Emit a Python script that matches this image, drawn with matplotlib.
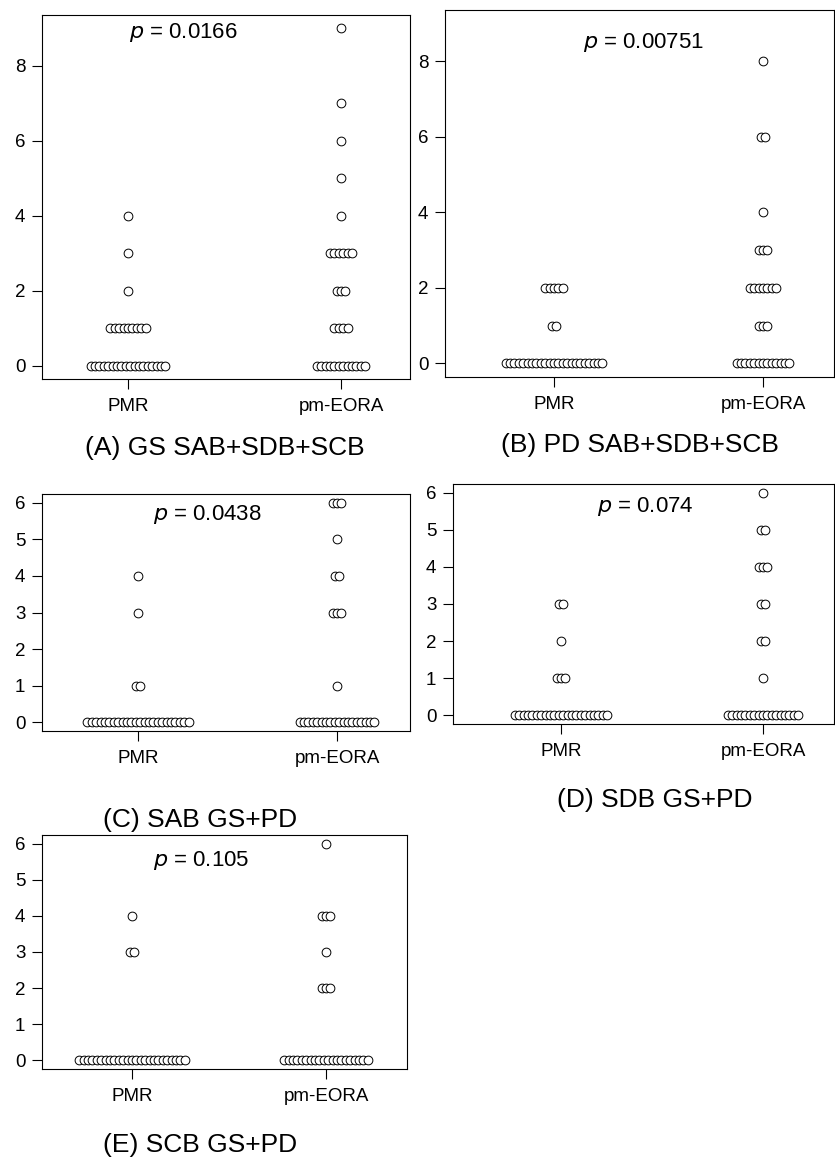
import matplotlib
matplotlib.use("Agg")
import matplotlib.pyplot as plt
import numpy as np

plt.rcParams['font.family'] = ['Liberation Sans', 'DejaVu Sans']

W, H = 835, 1162
DPI = 100

groups = ["PMR", "pm-EORA"]

# value -> count of patients (stacked dots)
A_pmr = {0: 18, 1: 9, 2: 1, 3: 1, 4: 1}
A_eora = {0: 12, 1: 4, 2: 3, 3: 6, 4: 1, 5: 1, 6: 1, 7: 1, 9: 1}
B_pmr = {0: 23, 1: 2, 2: 5}
B_eora = {0: 13, 1: 3, 2: 7, 3: 3, 4: 1, 6: 2, 8: 1}
C_pmr = {0: 24, 1: 2, 3: 1, 4: 1}
C_eora = {0: 18, 1: 1, 3: 3, 4: 2, 5: 1, 6: 3}
D_pmr = {0: 22, 1: 3, 2: 1, 3: 2}
D_eora = {0: 17, 1: 1, 2: 2, 3: 2, 4: 3, 5: 2, 6: 1}
E_pmr = {0: 25, 3: 2, 4: 1}
E_eora = {0: 20, 2: 3, 3: 1, 4: 3, 6: 1}

p_values = ["0.0166", "0.00751", "0.0438", "0.074", "0.105"]
captions = ["(A) GS SAB+SDB+SCB", "(B) PD SAB+SDB+SCB", "(C) SAB GS+PD",
            "(D) SDB GS+PD", "(E) SCB GS+PD"]
yticks_AB = [0, 2, 4, 6, 8]
yticks_CDE = [0, 1, 2, 3, 4, 5, 6]

# layout in pixels: left, right, top, bottom, col1 px, col2 px, ylim
panels = [
    dict(data=(A_pmr, A_eora), box=(42, 410, 15, 379), cols=(128, 341), ylim=(-0.36, 9.36),
         yt=yticks_AB, p=(183, 32), cap=(225, 448)),
    dict(data=(B_pmr, B_eora), box=(445, 834, 10, 377), cols=(554, 763), ylim=(-0.36, 9.36),
         yt=yticks_AB, p=(643, 43), cap=(640, 445)),
    dict(data=(C_pmr, C_eora), box=(42, 410, 494, 731), cols=(138, 337), ylim=(-0.24, 6.24),
         yt=yticks_CDE, p=(207, 514), cap=(200, 820)),
    dict(data=(D_pmr, D_eora), box=(453, 834, 484, 724), cols=(561, 763), ylim=(-0.24, 6.24),
         yt=yticks_CDE, p=(645, 507), cap=(655, 800)),
    dict(data=(E_pmr, E_eora), box=(42, 407, 835, 1069), cols=(132, 326), ylim=(-0.24, 6.24),
         yt=yticks_CDE, p=(201, 860), cap=(200, 1145)),
]

fig = plt.figure(figsize=(W / DPI, H / DPI), dpi=DPI)
STEP_PX = 4.4

for i, pn in enumerate(panels):
    l, r, t, b = pn['box']
    c1, c2 = pn['cols']
    ax = fig.add_axes([l / W, 1 - b / H, (r - l) / W, (b - t) / H])
    u = c2 - c1
    ax.set_xlim(1 - (c1 - l) / u, 2 + (r - c2) / u)
    ax.set_ylim(*pn['ylim'])
    step = STEP_PX / u
    for g, counts in enumerate(pn['data']):
        xs, ys = [], []
        for v, n in counts.items():
            k = np.arange(n) - (n - 1) / 2
            xs.extend(g + 1 + k * step)
            ys.extend([v] * n)
        ax.plot(xs, ys, 'o', mfc='white', mec='black', mew=0.7, ms=6.3, ls='none')
    ax.set_xticks([1, 2])
    ax.set_xticklabels(groups)
    ax.set_yticks(pn['yt'])
    ax.tick_params(axis='both', direction='out', length=7, width=0.8, labelsize=13.5,
                   colors='black', pad=5)
    ax.tick_params(axis='x', pad=7)
    for s in ax.spines.values():
        s.set_linewidth(0.8)
    px, py = pn['p']
    fig.text(px / W, 1 - py / H, r'$p$ = ' + p_values[i], fontsize=16, ha='center', va='center')
    cx, cy = pn['cap']
    fig.text(cx / W, 1 - cy / H, captions[i], fontsize=19, ha='center', va='center')

fig.savefig("out.png", dpi=DPI)
